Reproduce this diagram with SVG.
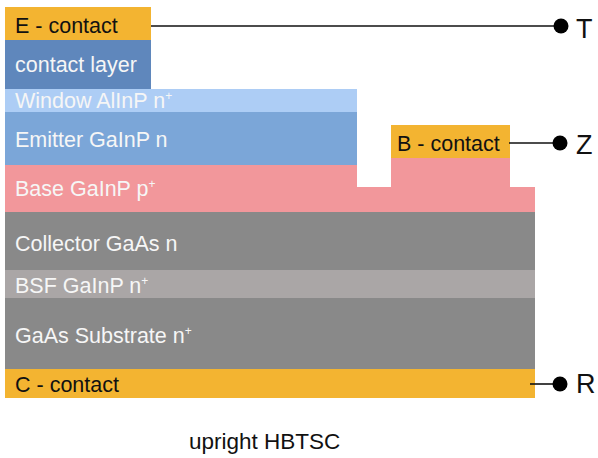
<svg xmlns="http://www.w3.org/2000/svg" width="598" height="458" viewBox="0 0 598 458">
<style>
text{font-family:"Liberation Sans",Arial,sans-serif;font-size:21.5px}
.w{fill:#f6f6f6}
.k{fill:#111}
.sup{font-size:12px}
.lbl{font-size:27px;fill:#111}
.wire{stroke:#111;stroke-width:1.6;fill:none}
</style>
<rect width="598" height="458" fill="#fff"/>
<g id="layers">
<g id="c-contact"><rect x="5" y="369" width="530" height="29" fill="#F3B431"/><text class="k" x="15" y="392">C - contact</text></g>
<g id="substrate"><rect x="5" y="298" width="530" height="71" fill="#898989"/><text class="w" x="15" y="343">GaAs Substrate n<tspan class="sup" dy="-8">+</tspan></text></g>
<g id="bsf"><rect x="5" y="270" width="530" height="28" fill="#AAA6A6"/><text class="w" x="15" y="293">BSF GaInP n<tspan class="sup" dy="-8">+</tspan></text></g>
<g id="collector"><rect x="5" y="212" width="530" height="58" fill="#898989"/><text class="w" x="15" y="251">Collector GaAs n</text></g>
<g id="base"><path d="M5 165 H357 V187 H391 V158 H510 V187 H535 V212 H5 Z" fill="#F2979B"/><text class="w" x="15" y="196">Base GaInP p<tspan class="sup" dy="-8">+</tspan></text></g>
<g id="emitter"><rect x="5" y="112" width="352" height="53" fill="#7BA6D8"/><text class="w" x="15" y="147">Emitter GaInP n</text></g>
<g id="window"><rect x="5" y="89" width="352" height="23" fill="#ADCDF5"/><text class="w" x="15" y="108">Window AlInP n<tspan class="sup" dy="-8">+</tspan></text></g>
<g id="contact-layer"><rect x="5" y="40" width="146" height="49" fill="#5F87BC"/><text class="w" x="15" y="72">contact layer</text></g>
<g id="e-contact"><rect x="5" y="7" width="146" height="33" fill="#F3B431"/><text class="k" x="15" y="33">E - contact</text></g>
<g id="b-contact"><rect x="391" y="125" width="119" height="33" fill="#F3B431"/><text class="k" x="397" y="151">B - contact</text></g>
</g>
<g id="connectors">
<line class="wire" x1="151" y1="26" x2="561" y2="26"/>
<line class="wire" x1="509" y1="143" x2="560" y2="143"/>
<line class="wire" x1="530" y1="384" x2="560" y2="384"/>
<circle cx="561" cy="26" r="7.5" fill="#000"/>
<circle cx="560" cy="143" r="7.5" fill="#000"/>
<circle cx="560" cy="384" r="7.5" fill="#000"/>
</g>
<g id="terminals">
<text class="lbl" x="576" y="38">T</text>
<text class="lbl" x="576" y="154">Z</text>
<text class="lbl" x="576" y="393">R</text>
</g>
<text class="k" x="189" y="449" style="font-size:22.5px">upright HBTSC</text>
</svg>
